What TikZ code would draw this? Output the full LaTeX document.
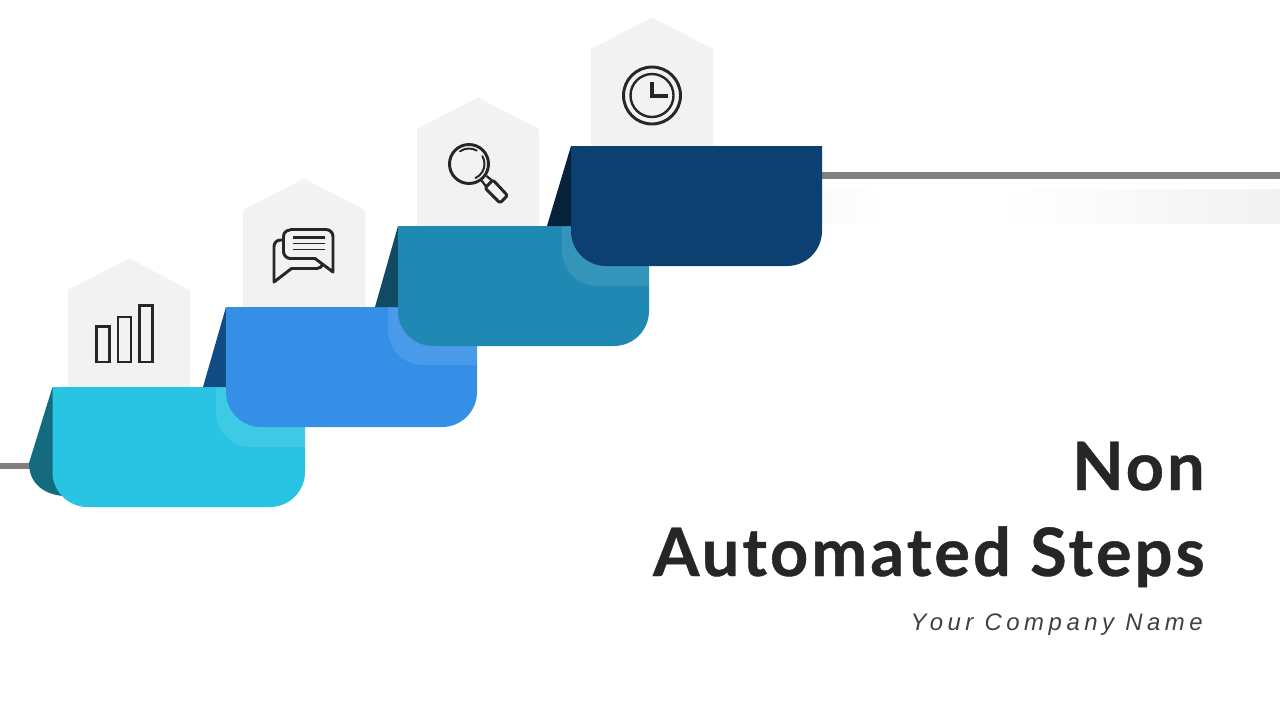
\documentclass[tikz,border=0pt]{standalone}
\usepackage{fontspec}
\setmainfont{Liberation Sans}
\newfontfamily\titlefont[LetterSpace=4.5,BoldFeatures={FakeBold=0.6}]{Lato}
\newfontfamily\namefont[LetterSpace=19]{Liberation Sans}
\definecolor{housegray}{HTML}{F2F2F2}
\definecolor{linegray}{HTML}{808080}
\definecolor{textdark}{HTML}{262626}
\definecolor{stepa}{HTML}{29C4E3}
\definecolor{stepb}{HTML}{358FE6}
\definecolor{stepc}{HTML}{1F88B3}
\definecolor{stepd}{HTML}{0D3F70}
\definecolor{folda}{HTML}{146B80}
\definecolor{foldb}{HTML}{124C85}
\definecolor{foldc}{HTML}{124A63}
\definecolor{foldd}{HTML}{07213D}
\tikzset{icon/.style = {draw=textdark, line width=2.1pt, line join=round},
         title/.style = {anchor=base east, inner sep=0pt, text=textdark,
                         font=\titlefont\bfseries\fontsize{47.5}{60}\selectfont}}
\begin{document}
\begin{tikzpicture}[x=0.25mm, y=-0.25mm]
    \useasboundingbox (0, 0) rectangle (1280, 720);
    % side lines and faint band
    \fill [linegray] (0, 462.5) rectangle (32, 469);
    \fill [linegray] (820, 172) rectangle (1280, 179);
    \shade [left color=white, right color=housegray] (1000, 189) rectangle (1280, 223);
    \shade [left color=black!2, right color=white] (822, 189) rectangle (885, 223);
    % houses
    \foreach \hx/\hy in {68/387, 243/307, 417/226, 591/146} {
      \fill [housegray] (\hx, \hy) -- (\hx, \hy-97) -- (\hx+61, \hy-128.5)
            -- (\hx+122, \hy-97) -- (\hx+122, \hy) -- cycle;
    }
    % first step
    \fill [folda] (52.5, 387) -- (29, 463) .. controls (29, 482) and (42, 494) .. (63, 496) -- (80, 496) -- cycle;
    \fill [stepa] (52.5, 387) -- (305, 387) -- (305, 472) arc (0:90:35) -- (87.5, 507) arc (90:180:35) -- cycle;
    \fill [white, fill opacity=0.1] (216, 387) -- (305, 387) -- (305, 447) -- (251, 447) arc (90:180:35) -- cycle;
    % second step
    \fill [foldb] (226, 307) -- (203, 387) -- (236, 387) -- cycle;
    \fill [stepb] (226, 307) -- (477, 307) -- (477, 392) arc (0:90:35) -- (261, 427) arc (90:180:35) -- cycle;
    \fill [white, fill opacity=0.1] (388, 307) -- (477, 307) -- (477, 365) -- (423, 365) arc (90:180:35) -- cycle;
    % third step
    \fill [foldc] (398, 226) -- (375, 307) -- (408, 307) -- cycle;
    \fill [stepc] (398, 226) -- (649, 226) -- (649, 311) arc (0:90:35) -- (433, 346) arc (90:180:35) -- cycle;
    \fill [white, fill opacity=0.1] (562, 226) -- (649, 226) -- (649, 286) -- (597, 286) arc (90:180:35) -- cycle;
    % fourth step
    \fill [foldd] (571, 146) -- (547, 226) -- (581, 226) -- cycle;
    \fill [stepd] (571, 146) -- (822, 146) -- (822, 231) arc (0:90:35) -- (606, 266) arc (90:180:35) -- cycle;
    % bars
    \draw [icon, line join=miter] (96.5, 326.5) rectangle (109.5, 362);
    \draw [icon, line join=miter] (118, 317) rectangle (131, 362);
    \draw [icon, line join=miter] (139.5, 305.5) rectangle (152.5, 362);
    % chat
    \draw [icon] (290, 229.5) -- (326, 229.5) arc (-90:0:7) -- (333, 272)
          -- (315, 258.5) -- (290.5, 258.5) arc (90:180:7) -- (283.5, 236.5) arc (180:270:6.5);
    \draw [icon] (283.5, 240) -- (280.5, 240) arc (-90:-180:6.5) -- (274, 282)
          -- (291.5, 268.5) -- (317, 268.5) arc (90:10:6);
    \draw [icon, line width=1.5pt] (293, 237.5) -- +(32, 0);
    \draw [icon, line width=0.8pt] (293, 243.5) -- +(32, 0);
    \draw [icon, line width=0.8pt] (293, 249.5) -- +(32, 0);
    % magnifier
    \draw [icon] (469, 164) circle (19.5);
    \draw [icon, line width=1.4pt, line cap=round] (482.4, 156.2) arc (-30:65:15.5);
    \draw [icon, line width=1.4pt, line cap=round] (460.1, 151.3) arc (-125:-60:15.5);
    \draw [icon, line width=1.6pt] (481.5, 180.5) -- (486.5, 187);
    \draw [icon, line width=1.6pt] (486.5, 176) -- (492.5, 181);
    \draw [icon, rounded corners=1.5] (493, 180) -- (507.5, 195.5) -- (500, 203) -- (485, 188) -- cycle;
    % clock
    \draw [icon] (652, 95.5) circle (28.5);
    \draw [icon, line width=1.7pt] (652, 95.5) circle (21.5);
    \draw [icon, line width=2.2pt, line join=miter] (652, 82) -- (652, 96) -- (668, 96);
    % title
    \node (non) [title] at (1205, 490) {Non};
    \node (automated) [title] at (1205, 576) {Automated Steps};
    \node (company) [anchor=base east, inner sep=0pt, text=black!75,
                     font=\namefont\itshape\fontsize{17}{20}\selectfont] at (1203, 630) {Your Company Name};
  \end{tikzpicture}
\end{document}
